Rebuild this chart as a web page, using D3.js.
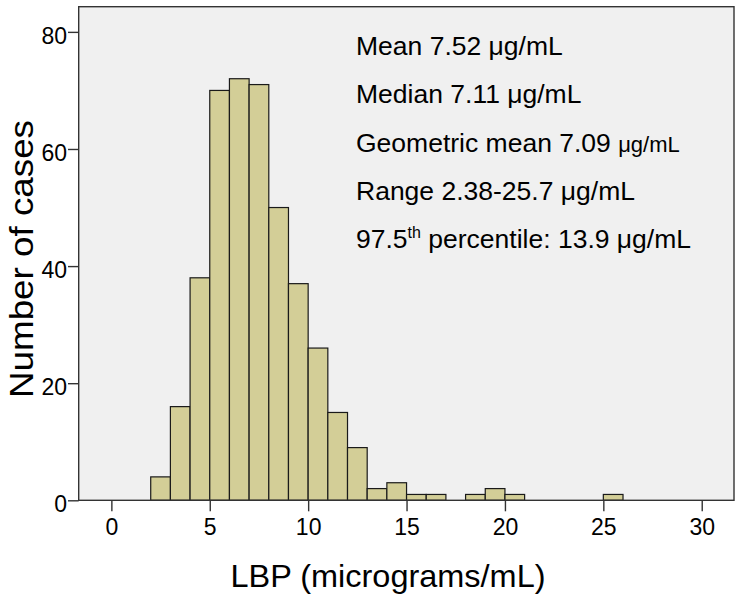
<!DOCTYPE html>
<html>
<head>
<meta charset="utf-8">
<script src="https://cdn.jsdelivr.net/npm/d3@7"></script>
<style>
  html, body { margin: 0; padding: 0; background: #fff; }
  svg { display: block; font-family: "Liberation Sans", Arial, sans-serif; }
</style>
</head>
<body>
<svg id="chart" width="742" height="605"></svg>
<script>
// Histogram bins (lower edges, width 1) and counts
const binStarts = [2,3,4,5,6,7,8,9,10,11,12,13,14,15,16,17,18,19,20,21,22,23,24,25];
const counts    = [4,16,38,70,72,71,50,37,26,15,9,2,3,1,1,0,1,2,1,0,0,0,0,1];
const binWidth = 1;
const xTicks = [0,5,10,15,20,25,30];
const yTicks = [0,20,40,60,80];
const xTitle = "LBP (micrograms/mL)";
const yTitle = "Number of cases";

(function () {
const svg = d3.select("#chart");
const pL = 78.7, pR = 734, pT = 6.7, pB = 500.3;

const x = d3.scaleLinear().domain([-1.66, 31.64]).range([pL, pR]);
const y = d3.scaleLinear().domain([0, 84.3]).range([pB, pT]);

// plot background
svg.append("rect")
  .attr("x", pL).attr("y", pT)
  .attr("width", pR - pL).attr("height", pB - pT)
  .attr("fill", "#f0f0f0");

// bars
const bars = binStarts.map((s, i) => ({ x0: s, x1: s + binWidth, n: counts[i] })).filter(d => d.n > 0);
svg.append("g").selectAll("rect").data(bars).join("rect")
  .attr("x", d => x(d.x0))
  .attr("y", d => y(d.n))
  .attr("width", d => x(d.x1) - x(d.x0))
  .attr("height", d => y(0) - y(d.n))
  .attr("fill", "#d3ce97")
  .attr("stroke", "#1a1a1a")
  .attr("stroke-width", 1.2);

// frame
svg.append("rect")
  .attr("x", pL).attr("y", pT)
  .attr("width", pR - pL).attr("height", pB - pT)
  .attr("fill", "none")
  .attr("stroke", "#333")
  .attr("stroke-width", 1.4);

// axes
const xAxis = d3.axisBottom(x).tickValues(xTicks).tickSize(11).tickPadding(7).tickSizeOuter(0);
const gx = svg.append("g").attr("transform", `translate(0,${pB})`).call(xAxis);
gx.select(".domain").remove();
gx.selectAll(".tick line").attr("stroke", "#333").attr("stroke-width", 1.4);
gx.selectAll(".tick text").attr("font-size", 23).attr("fill", "#000")
  .attr("font-family", "Liberation Sans, Arial, sans-serif");

const yAxis = d3.axisLeft(y).tickValues(yTicks).tickSize(10.7).tickPadding(1).tickSizeOuter(0);
const gy = svg.append("g").attr("transform", `translate(${pL},0)`).call(yAxis);
gy.select(".domain").remove();
gy.selectAll(".tick line").attr("stroke", "#333").attr("stroke-width", 1.4);
gy.selectAll(".tick text").attr("font-size", 23).attr("fill", "#000").attr("dy", "0.5em")
  .attr("font-family", "Liberation Sans, Arial, sans-serif");

// axis titles
svg.append("text")
  .attr("x", 388).attr("y", 587)
  .attr("text-anchor", "middle")
  .attr("font-size", 32)
  .attr("fill", "#000")
  .attr("textLength", 315)
  .attr("lengthAdjust", "spacingAndGlyphs")
  .text(xTitle);

svg.append("text")
  .attr("transform", "translate(33,259) rotate(-90)")
  .attr("text-anchor", "middle")
  .attr("font-size", 34)
  .attr("fill", "#000")
  .attr("textLength", 278)
  .attr("lengthAdjust", "spacingAndGlyphs")
  .text(yTitle);

// statistics annotation
const statsX = 356;
const baselines = [55, 103.3, 151.7, 200, 248.3];
const fs = 26.5;
const t1 = svg.append("text").attr("x", statsX).attr("y", baselines[0]).attr("font-size", fs);
t1.text("Mean 7.52 μg/mL");
const t2 = svg.append("text").attr("x", statsX).attr("y", baselines[1]).attr("font-size", fs);
t2.text("Median 7.11 μg/mL");
const t3 = svg.append("text").attr("x", statsX).attr("y", baselines[2]).attr("font-size", fs);
t3.append("tspan").text("Geometric mean 7.09 ");
t3.append("tspan").attr("font-size", 22).text("μg/mL");
const t4 = svg.append("text").attr("x", statsX).attr("y", baselines[3]).attr("font-size", fs);
t4.text("Range 2.38-25.7 μg/mL");
const t5 = svg.append("text").attr("x", statsX).attr("y", baselines[4]).attr("font-size", fs);
t5.append("tspan").text("97.5");
t5.append("tspan").attr("font-size", 16).attr("dy", -10).text("th");
t5.append("tspan").attr("dy", 10).text(" percentile: 13.9 μg/mL");
})();
</script>
</body>
</html>
